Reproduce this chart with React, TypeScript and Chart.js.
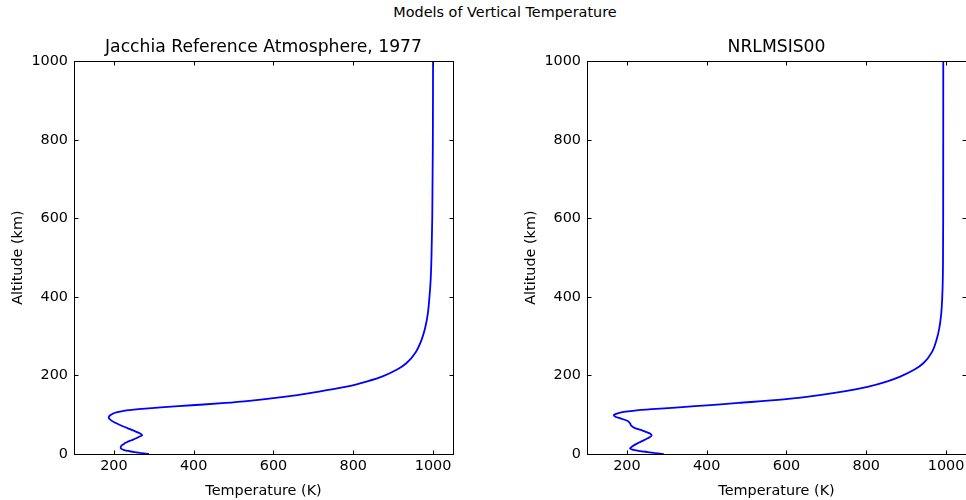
import React, { useEffect, useRef } from "react";
import { Chart, registerables } from "chart.js";
Chart.register(...registerables);

const figureTitle = "Models of Vertical Temperature";
const jacchiaTitle = "Jacchia Reference Atmosphere, 1977";
const msisTitle = "NRLMSIS00";
const xLabel = "Temperature (K)";
const yLabel = "Altitude (km)";
const xTicks = [200, 400, 600, 800, 1000];
const yTicks = [0, 200, 400, 600, 800, 1000];

const jacchiaAlt = [0, 5, 10, 15, 20, 25, 30, 35, 40, 45, 48, 52, 60, 70, 80, 88, 93, 98, 102, 106, 110, 114, 118, 122, 126, 130, 136, 142, 150, 160, 173, 185, 197, 215, 231, 260, 290, 320, 358, 400, 443, 500, 600, 800, 1000];
const jacchiaTemp = [288, 252, 226, 217, 218, 224, 232, 244, 256, 266, 271, 266, 248, 224, 202, 190, 187, 190, 196, 206, 225, 262, 310, 362, 425, 480, 545, 600, 660, 720, 790, 835, 872, 910, 933, 957, 971, 980, 987, 991, 994, 996, 998, 999.5, 1000];

const msisAlt = [0, 5, 10, 14, 20, 30, 40, 47, 52, 60, 66, 72, 78, 84, 90, 95, 99, 103, 107, 110, 114, 118, 124, 130, 139, 150, 160, 171, 185, 197, 215, 231, 260, 290, 320, 358, 400, 443, 500, 600, 1000];
const msisTemp = [292, 252, 219, 208, 214, 232, 252, 262, 258, 238, 220, 211, 208, 202, 186, 171, 167, 175, 192, 215, 262, 322, 400, 480, 593, 683, 748, 803, 853, 885, 921, 943, 965, 976, 983, 988, 990.5, 991.8, 992.4, 992.8, 993];

const FONT = "'DejaVu Sans', sans-serif";

const frameAndTicks = {
  id: "frameAndTicks",
  afterDraw(chart: any) {
    const { ctx, chartArea: a, scales } = chart;
    const xs = scales.x;
    const ys = scales.y;
    const L = Math.round(a.left) + 0.5;
    const R = Math.round(a.right) + 0.5;
    const T = Math.round(a.top) + 0.5;
    const B = Math.round(a.bottom) + 0.5;
    ctx.save();
    ctx.strokeStyle = "#000";
    ctx.lineWidth = 1;
    ctx.beginPath();
    for (const t of xs.ticks) {
      const px = Math.round(xs.getPixelForValue(t.value)) + 0.5;
      ctx.moveTo(px, B);
      ctx.lineTo(px, B - 4);
      ctx.moveTo(px, T);
      ctx.lineTo(px, T + 4);
    }
    for (const t of ys.ticks) {
      const py = Math.round(ys.getPixelForValue(t.value)) + 0.5;
      ctx.moveTo(L, py);
      ctx.lineTo(L + 4, py);
      ctx.moveTo(R, py);
      ctx.lineTo(R - 4, py);
    }
    ctx.stroke();
    ctx.strokeRect(L, T, R - L, B - T);
    ctx.restore();
  },
};

function makeConfig(title: string, alt: number[], temp: number[]): any {
  const font = { family: FONT, size: 14.4 };
  return {
    type: "line",
    data: {
      datasets: [
        {
          data: alt.map((a, i) => ({ x: temp[i], y: a })),
          borderColor: "#0000ff",
          borderWidth: 1.8,
          pointRadius: 0,
          cubicInterpolationMode: "monotone",
          fill: false,
        },
      ],
    },
    options: {
      animation: false,
      responsive: false,
      devicePixelRatio: 1,
      indexAxis: "y",
      layout: { padding: { top: 37.6, left: 0, right: 30, bottom: 0 } },
      plugins: {
        legend: { display: false },
        tooltip: { enabled: false },
        title: {
          display: true,
          fullSize: false,
          text: title,
          color: "#000",
          font: { family: FONT, size: 17.2, weight: "normal" },
          padding: { top: 0, bottom: 3 },
        },
      },
      scales: {
        x: {
          type: "linear",
          position: "bottom",
          min: 100,
          max: 1050,
          afterBuildTicks: (s: any) => {
            s.ticks = xTicks.map((v) => ({ value: v }));
          },
          afterFit: (s: any) => {
            s.height = 46;
          },
          grid: { display: false, drawTicks: false },
          border: { display: false },
          ticks: { color: "#000", font, padding: 4, maxRotation: 0, autoSkip: false, callback: (v: any) => String(v) },
          title: { display: true, text: xLabel, color: "#000", font, padding: { top: 8, bottom: 0 } },
        },
        y: {
          type: "linear",
          position: "left",
          min: 0,
          max: 1000,
          afterBuildTicks: (s: any) => {
            s.ticks = yTicks.map((v) => ({ value: v }));
          },
          afterFit: (s: any) => {
            s.width = 74;
          },
          grid: { display: false, drawTicks: false },
          border: { display: false },
          ticks: { color: "#000", font, padding: 6, autoSkip: false, callback: (v: any) => String(v) },
          title: { display: true, text: yLabel, color: "#000", font, padding: { top: 10, bottom: 0 } },
        },
      },
    },
    plugins: [frameAndTicks],
  };
}

function Panel(props: { left: number; title: string; alt: number[]; temp: number[] }) {
  const ref = useRef<HTMLCanvasElement | null>(null);
  useEffect(() => {
    if (!ref.current) return;
    const chart = new Chart(ref.current, makeConfig(props.title, props.alt, props.temp));
    return () => chart.destroy();
  }, []);
  return (
    <canvas
      ref={ref}
      width={483}
      height={500}
      style={{ position: "absolute", left: props.left, top: 0, width: 483, height: 500 }}
    />
  );
}

export default function App() {
  return (
    <div
      style={{
        position: "fixed",
        left: 0,
        top: 0,
        width: 966,
        height: 500,
        overflow: "hidden",
        background: "#fff",
      }}
    >
      <div
        style={{
          position: "absolute",
          left: 0,
          top: 3,
          width: 1010,
          textAlign: "center",
          fontFamily: FONT,
          fontSize: 14.4,
          lineHeight: "18px",
          color: "#000",
        }}
      >
        {figureTitle}
      </div>
      <Panel left={0} title={jacchiaTitle} alt={jacchiaAlt} temp={jacchiaTemp} />
      <Panel left={513} title={msisTitle} alt={msisAlt} temp={msisTemp} />
    </div>
  );
}
